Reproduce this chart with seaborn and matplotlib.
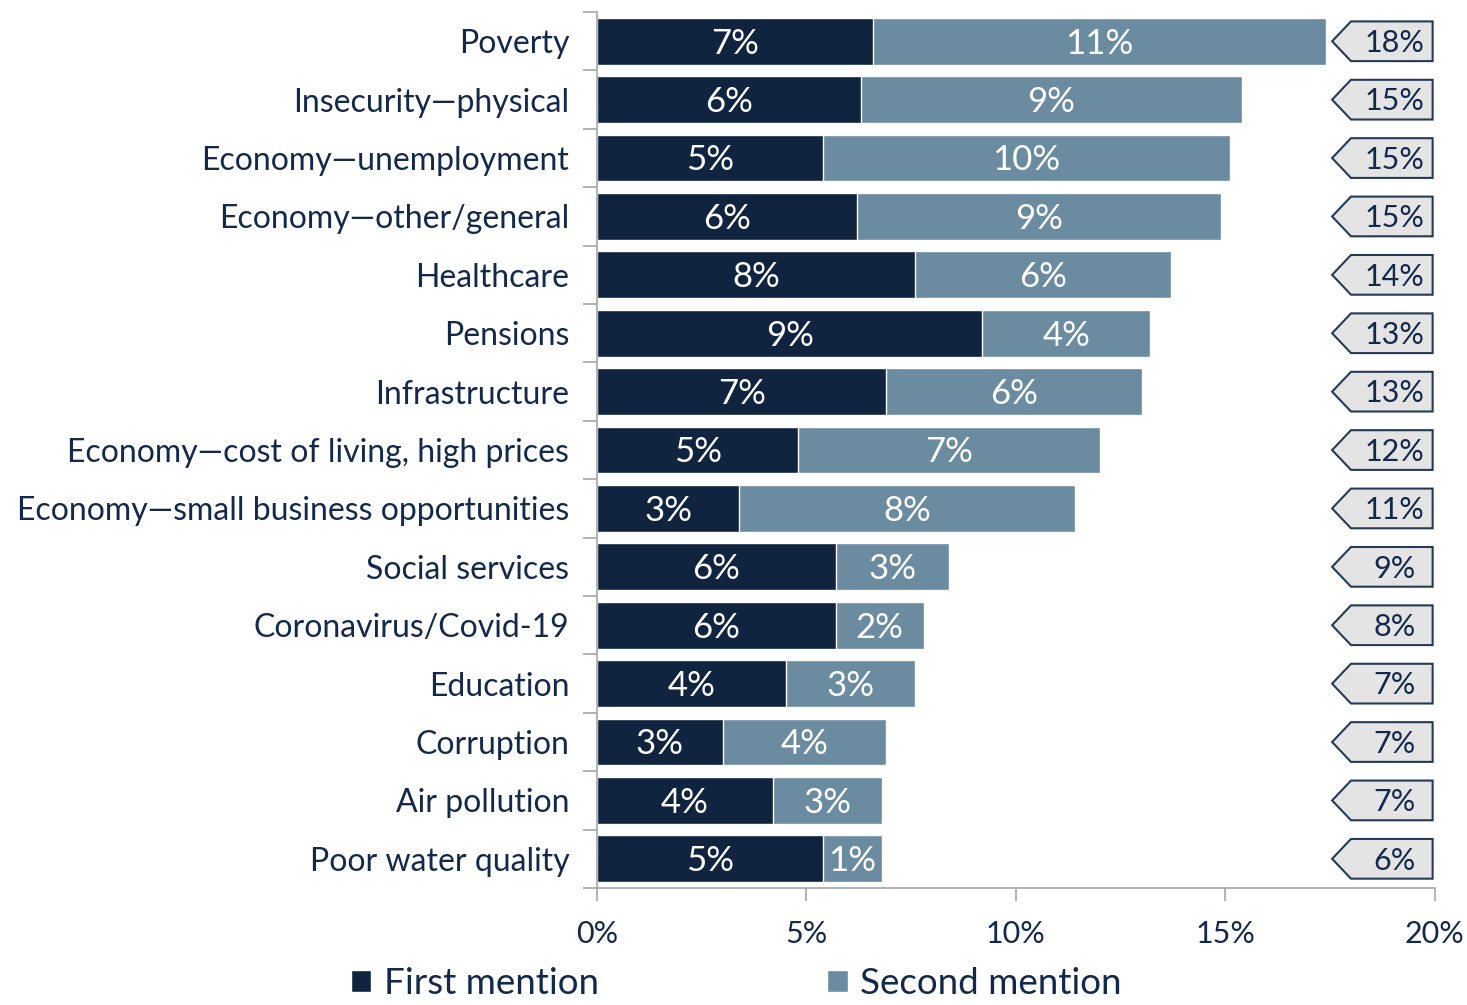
import numpy as np
import pandas as pd
import matplotlib
matplotlib.use('Agg')
import matplotlib.pyplot as plt
from matplotlib.patches import Polygon, Patch
import seaborn as sns

# data (percent of respondents)
categories = ['Poverty', 'Insecurity\u2014physical', 'Economy\u2014unemployment',
              'Economy\u2014other/general', 'Healthcare', 'Pensions', 'Infrastructure',
              'Economy\u2014cost of living, high prices',
              'Economy\u2014small business opportunities', 'Social services',
              'Coronavirus/Covid-19', 'Education', 'Corruption', 'Air pollution',
              'Poor water quality']
first_mention = [6.6, 6.3, 5.4, 6.2, 7.6, 9.2, 6.9, 4.8, 3.4, 5.7, 5.7, 4.5, 3.0, 4.2, 5.4]
second_mention = [10.8, 9.1, 9.7, 8.7, 6.1, 4.0, 6.1, 7.2, 8.0, 2.7, 2.1, 3.1, 3.9, 2.6, 1.4]
first_labels = ['7%', '6%', '5%', '6%', '8%', '9%', '7%', '5%', '3%', '6%', '6%', '4%', '3%', '4%', '5%']
second_labels = ['11%', '9%', '10%', '9%', '6%', '4%', '6%', '7%', '8%', '3%', '2%', '3%', '4%', '3%', '1%']
total_labels = ['18%', '15%', '15%', '15%', '14%', '13%', '13%', '12%', '11%', '9%', '8%', '7%', '7%', '7%', '6%']
x_ticks = [0, 5, 10, 15, 20]

navy = '#10233F'
steel = '#6A8BA0'
text_col = '#13294B'
axis_col = '#A6A6A6'

df = pd.DataFrame({'category': categories, 'first': first_mention, 'second': second_mention})
df['total'] = df['first'] + df['second']

sns.set_style('white')
plt.rcParams['font.family'] = ['Lato', 'DejaVu Sans']

fig = plt.figure(figsize=(14.67, 10.05), dpi=100)
ax = fig.add_axes([0.407, 0.1164, 0.571, 0.8716])

sns.barplot(data=df, x='total', y='category', color=steel, orient='h',
            width=0.8, saturation=1, ax=ax)
sns.barplot(data=df, x='first', y='category', color=navy, orient='h',
            width=0.8, saturation=1, ax=ax)

# value labels inside each segment
for i, row in df.iterrows():
    ax.text(row['first'] / 2, i + 0.04, first_labels[i], color='white', fontsize=25,
            ha='center', va='center')
    ax.text(row['first'] + row['second'] / 2, i + 0.04, second_labels[i], color='white',
            fontsize=25, ha='center', va='center')

# total tags (left-pointing pentagons)
for i in range(len(categories)):
    h = 0.34
    pts = [(17.55, i), (18.0, i - h), (19.95, i - h), (19.95, i + h), (18.0, i + h)]
    ax.add_patch(Polygon(pts, closed=True, facecolor='#E4E4E4', edgecolor='#243A55',
                         linewidth=1.5, zorder=5))
    ax.text(19.05, i + 0.03, total_labels[i], color=text_col, fontsize=22,
            ha='center', va='center', zorder=6)

ax.set_xlim(0, 20)
ax.set_ylim(len(categories) - 0.5, -0.5)
ax.set_xticks(x_ticks)
ax.set_xticklabels([f'{t}%' for t in x_ticks])
ax.set_xlabel('')
ax.set_ylabel('')

# y ticks sit between categories, labels at the centres
ax.set_yticks(np.arange(len(categories)))
ax.set_yticklabels(categories)
ax.set_yticks(np.arange(-0.5, len(categories), 1), minor=True)
ax.tick_params(axis='y', which='major', length=0, pad=20, labelsize=23, labelcolor=text_col)
ax.tick_params(axis='y', which='minor', length=10, width=1.2, color=axis_col, left=True)
ax.tick_params(axis='x', length=9, width=1.2, color=axis_col, bottom=True, pad=14,
               labelsize=22, labelcolor=text_col)

for side in ['top', 'right']:
    ax.spines[side].set_visible(False)
for side in ['left', 'bottom']:
    ax.spines[side].set_color(axis_col)
    ax.spines[side].set_linewidth(1.2)

handles = [Patch(facecolor=navy, label='First mention'),
           Patch(facecolor=steel, label='Second mention')]
leg = fig.legend(handles=handles, loc='center', bbox_to_anchor=(0.502, 0.021), ncol=2,
                 frameon=False, fontsize=26.5, handlelength=0.55, handleheight=0.55,
                 handletextpad=0.35, columnspacing=6.2, borderaxespad=0, borderpad=0)
for t in leg.get_texts():
    t.set_color(text_col)

fig.savefig('out.png', dpi=100)
